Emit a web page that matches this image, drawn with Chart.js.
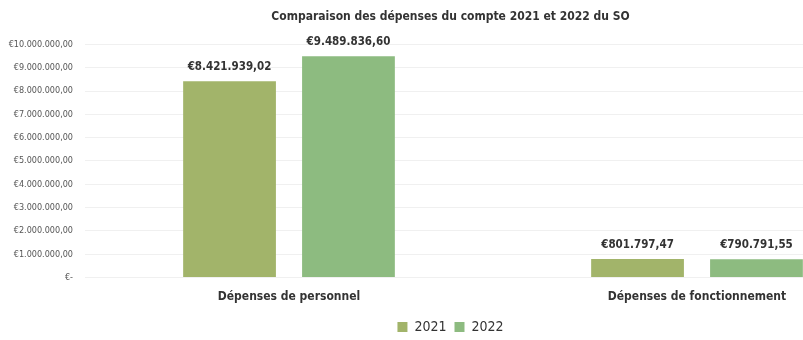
<!DOCTYPE html>
<html>
<head>
<meta charset="utf-8">
<script src="https://cdn.jsdelivr.net/npm/chart.js@4/dist/chart.umd.min.js"></script>
<style>
  html, body { margin: 0; padding: 0; background: #fff; overflow: hidden; }
  #wrap { width: 905px; height: 340px; }
</style>
</head>
<body>
<div id="wrap"><canvas id="chart"></canvas></div>
<script>
// chart data
const categories = ["Dépenses de personnel", "Dépenses de fonctionnement"];
const years = ["2021", "2022"];
const values2021 = [8421939.02, 801797.47];
const values2022 = [9489836.60, 790791.55];
const colors = ["#a2b46a", "#8dbb80"];

const FONT = "'DejaVu Sans Condensed', 'Liberation Sans Narrow', sans-serif";

function euro(v) {
  if (v === 0) return "€-";
  const [i, d] = v.toFixed(2).split(".");
  return "€" + i.replace(/\B(?=(\d{3})+(?!\d))/g, ".") + "," + d;
}

// value labels above bars
const barLabels = {
  id: "barLabels",
  afterDatasetsDraw(chart) {
    const ctx = chart.ctx;
    ctx.save();
    ctx.font = "bold 11.5px " + FONT;
    ctx.fillStyle = "#333";
    ctx.textAlign = "center";
    ctx.textBaseline = "middle";
    chart.data.datasets.forEach((ds, i) => {
      chart.getDatasetMeta(i).data.forEach((bar, j) => {
        ctx.fillText(euro(ds.data[j]), bar.x, bar.y - 14);
      });
    });
    ctx.restore();
  }
};

new Chart(document.getElementById("chart"), {
  type: "bar",
  data: {
    labels: categories,
    datasets: [
      { label: years[0], data: values2021, backgroundColor: colors[0] },
      { label: years[1], data: values2022, backgroundColor: colors[1] }
    ]
  },
  options: {
    responsive: true,
    maintainAspectRatio: false,
    animation: false,
    layout: { padding: { left: 0, right: 4, top: 0, bottom: -4 } },
    datasets: { bar: { categoryPercentage: 0.583, barPercentage: 0.78 } },
    scales: {
      x: {
        grid: { display: false },
        border: { display: false },
        ticks: { color: "#333", font: { family: FONT, size: 12, weight: "bold" }, padding: 4 },
        afterFit: s => { s.height += 4; }
      },
      y: {
        min: 0, max: 10000000,
        ticks: {
          stepSize: 1000000,
          color: "#555",
          font: { family: FONT, size: 9 },
          padding: 12,
          callback: v => euro(v)
        },
        grid: { color: "#f0f0f0", drawTicks: false },
        border: { display: false },
        afterFit: s => { s.width = 85; }
      }
    },
    plugins: {
      title: {
        display: true,
        text: "Comparaison des dépenses du compte 2021 et 2022 du SO",
        color: "#333",
        font: { family: FONT, size: 12, weight: "bold" },
        padding: { top: 10, bottom: 20 }
      },
      legend: {
        position: "bottom",
        labels: {
          color: "#333",
          font: { family: FONT, size: 14 },
          boxWidth: 10, boxHeight: 10, padding: 8
        }
      },
      tooltip: { enabled: false }
    }
  },
  plugins: [barLabels]
});
</script>
</body>
</html>
